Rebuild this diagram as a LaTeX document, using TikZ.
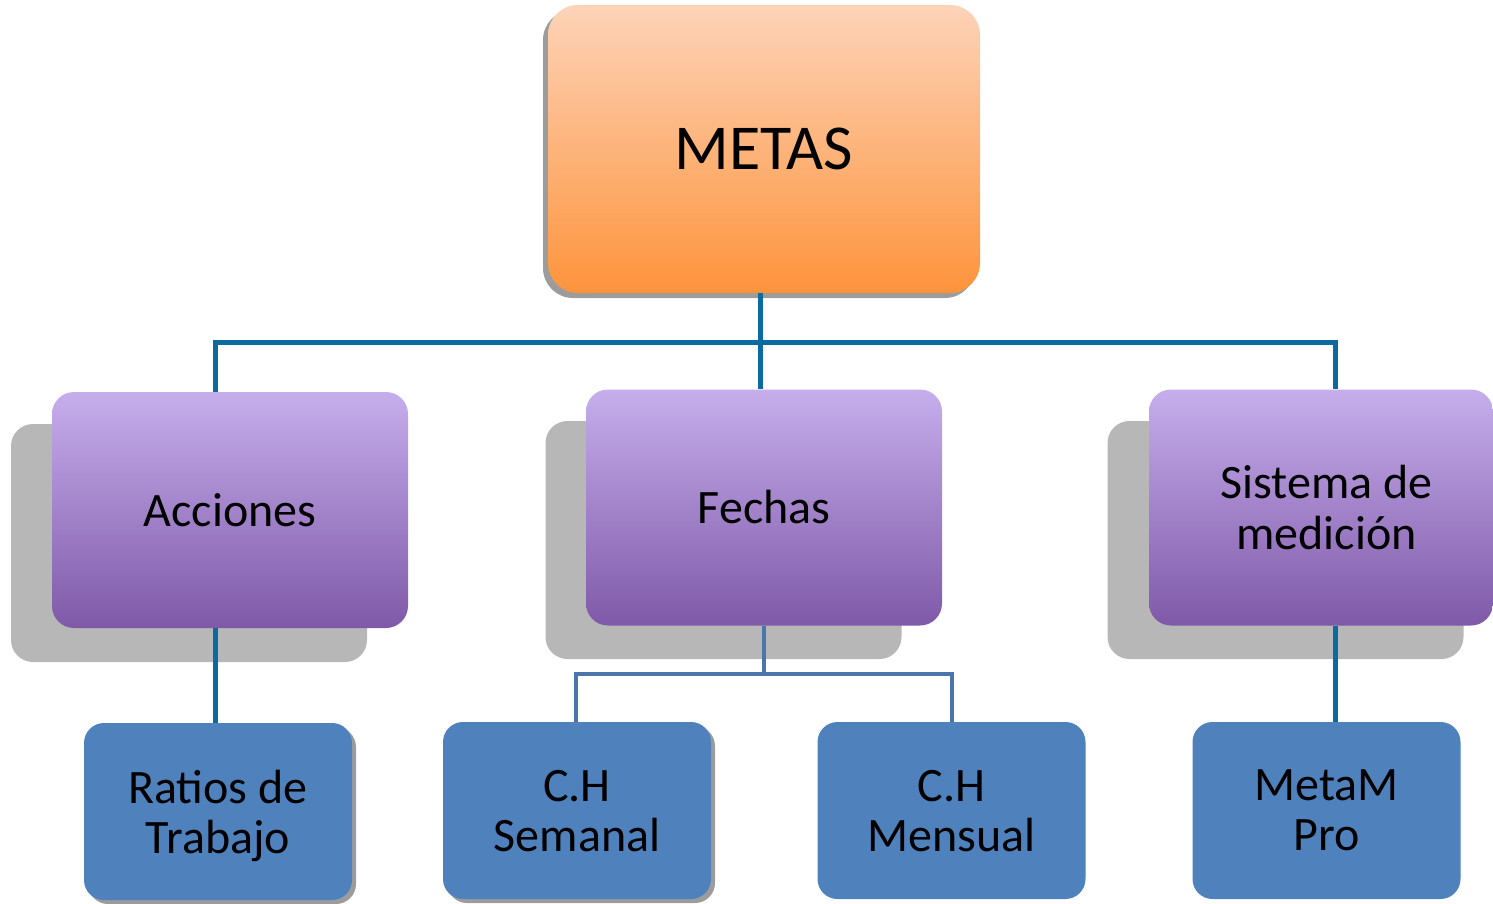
\documentclass[tikz,border=0pt]{standalone}
\usepackage{fontspec}
\setmainfont{Carlito}
\usetikzlibrary{shadings}
\definecolor{conna}{HTML}{0B6AA0}
\definecolor{connb}{HTML}{4A76AB}
\definecolor{shadegray}{HTML}{B7B7B7}
\definecolor{shadedark}{HTML}{9C9C9C}
\definecolor{orangetop}{HTML}{FDD3B8}
\definecolor{orangebot}{HTML}{FD943C}
\definecolor{purpletop}{HTML}{C6AEEC}
\definecolor{purplebot}{HTML}{7F59A8}
\definecolor{bluebox}{HTML}{4F81BD}
\tikzset{
  metabox/.style={rounded corners=15pt, minimum width=216pt, minimum height=144pt, inner sep=0pt,
    top color=orangetop, bottom color=orangebot, draw=none, font=\fontsize{32pt}{35pt}\selectfont, align=center},
  midbox/.style={rounded corners=11pt, minimum width=178pt, minimum height=118pt, inner sep=0pt,
    top color=purpletop, bottom color=purplebot, draw=none, font=\fontsize{24pt}{25.5pt}\selectfont, align=center},
  midshadow/.style={rounded corners=11pt, minimum width=178pt, minimum height=119pt, inner sep=0pt, fill=shadegray},
  lowbox/.style={rounded corners=10pt, minimum width=134pt, minimum height=88.5pt, inner sep=0pt, text depth=0pt,
    fill=bluebox, font=\fontsize{24pt}{25pt}\selectfont, align=center},
  lowshadow/.style={rounded corners=10pt, minimum width=134pt, minimum height=88.5pt, inner sep=0pt, fill=shadedark},
  conn/.style={draw=conna, line width=2.5pt},
  connsub/.style={draw=connb, line width=2pt}
}
\begin{document}
\begin{tikzpicture}[x=0.5pt,y=-0.5pt]
\useasboundingbox (0,0) rectangle (1493,904);
% top
\node[rounded corners=15pt, minimum width=216pt, minimum height=144pt, fill=shadedark] (metash) at (759,154) {};
\node[metabox] (metas) at (764,149) {METAS};
% middle shadows
\node[midshadow] (accsh) at (189,543) {};
\node[midshadow] (fecsh) at (723.5,540) {};
\node[midshadow] (sissh) at (1285.5,540) {};
% middle boxes
\node[midbox] (acc) at (230,510) {Acciones};
\node[midbox] (fec) at (764,507.5) {Fechas};
\node[midbox, minimum width=172pt] (sis) at (1321,507.5) {\hspace*{5.5pt}Sistema de\\\hspace*{5.5pt}medición};
% bottom
\node[lowshadow] (ratsh) at (222,815.5) {};
\node[lowshadow] (semsh) at (581,814.5) {};
\node[lowbox] (rat) at (218,811.5) {Ratios de\\Trabajo};
\node[lowbox] (sem) at (577,810.5) {C.H\\Semanal};
\node[lowbox] (men) at (951.5,810.5) {C.H\\Mensual};
\node[lowbox] (met) at (1326.5,810.5) {MetaM\\Pro};
% connectors
\coordinate (hub) at (760,342);
\coordinate (hl) at (215,342);
\coordinate (hr) at (1335,342);
\coordinate (fh) at (764,674);
\coordinate (fl) at (576,674);
\draw[conn] (metas.south -| hub) -- (hub);
\draw[conn] (acc.north -| hl) -- (hl) -- (hr) -- (sis.north -| hr);
\draw[conn] (hub) -- (fec.north -| hub);
\draw[conn] (acc.south -| hl) -- (rat.north -| hl);
\draw[conn] (sis.south -| hr) -- (met.north -| hr);
\draw[connsub] (fec.south -| fh) -- (fh);
\draw[connsub] (sem.north -| fl) -- (fl) -- (fh) -| (men.north);
\end{tikzpicture}
\end{document}
